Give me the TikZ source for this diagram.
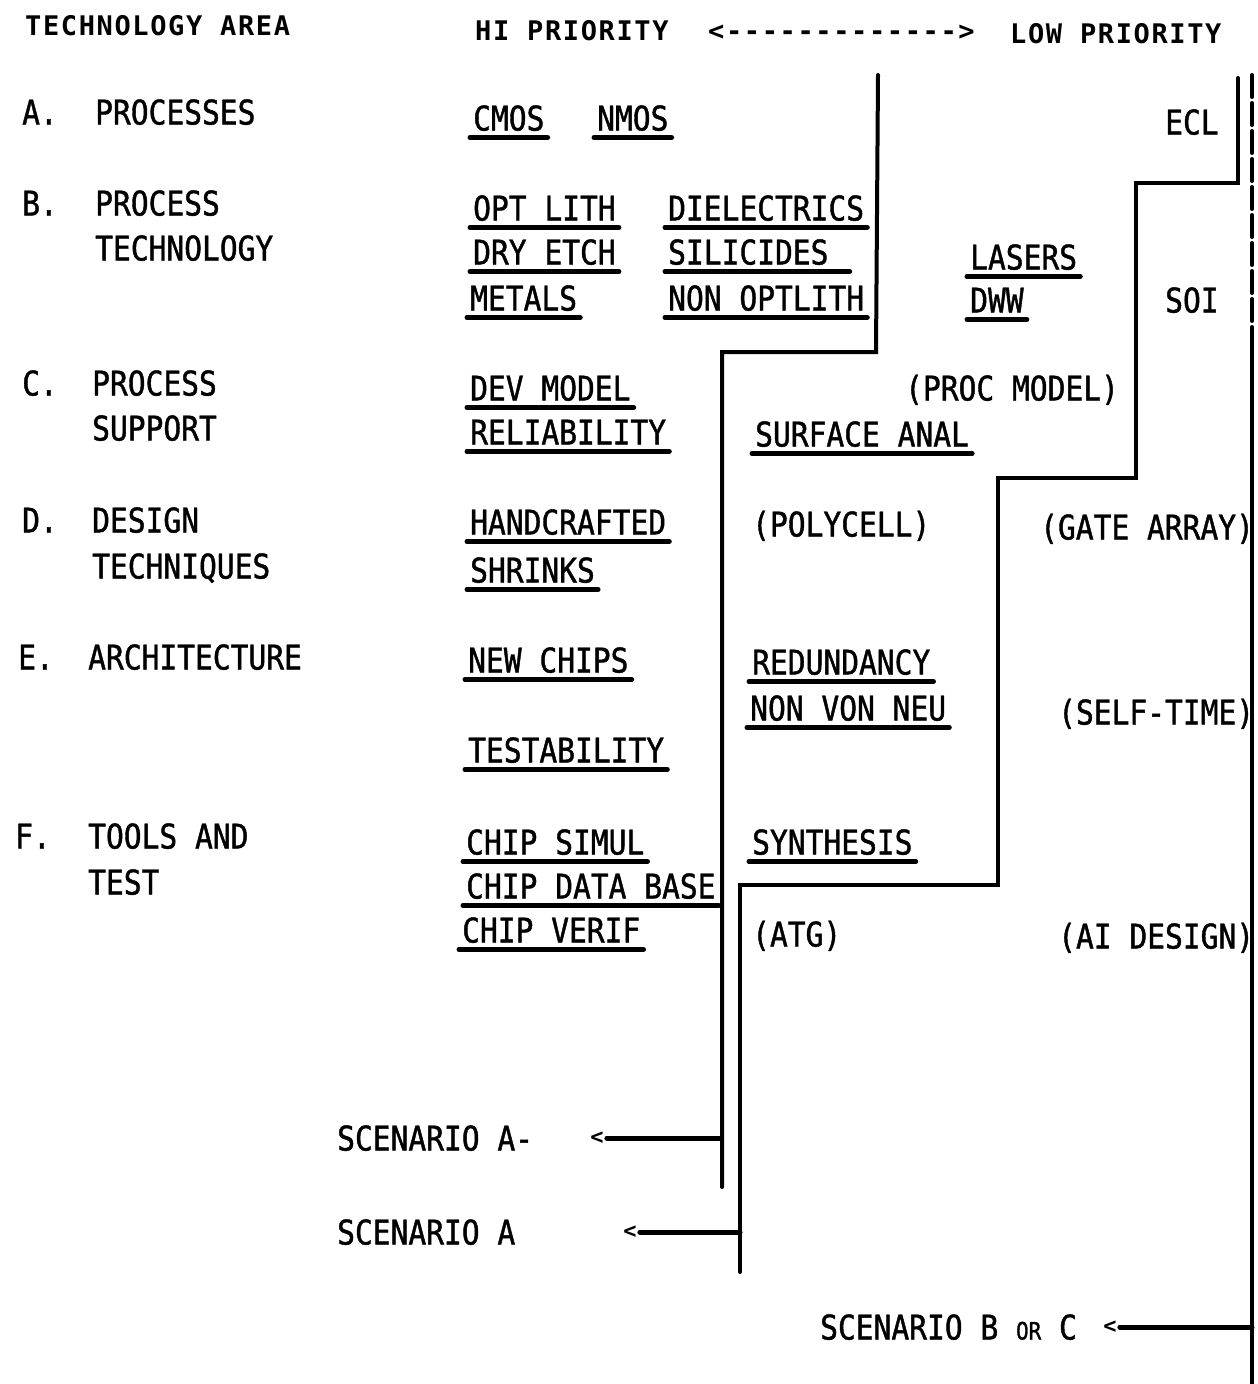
\documentclass[tikz,border=0pt]{standalone}
\usepackage{fontspec}
\newfontfamily\bodyf[FakeStretch=0.87,FakeBold=1.2]{DejaVu Sans Mono}
\newfontfamily\headf[LetterSpace=6]{DejaVu Sans Mono}
\newfontfamily\smallf{DejaVu Sans Mono}
\tikzset{
  bodytxt/.style={anchor=base west, inner sep=0pt, font=\bodyf\fontsize{34}{34}\selectfont},
  headtxt/.style={anchor=base west, inner sep=0pt, font=\headf\bfseries\fontsize{27}{27}\selectfont},
  lt/.style={anchor=center, inner sep=3pt, font=\smallf\bfseries\fontsize{22}{22}\selectfont},
  uline/.style={line width=5pt, line cap=round},
  stair/.style={line width=4pt, line cap=round, line join=miter},
  conn/.style={line width=5pt, line cap=round},
}
\newcommand\uitem[5][0]{%
  \node[bodytxt] (#2) at (#3,#4+12.5) {#5};
  \draw[uline] ([xshift=-3pt,yshift=-7pt]#2.base west) -- ([xshift=3pt+#1pt,yshift=-7pt]#2.base east);}
\newcommand\pitem[4]{%
  \node[bodytxt] (#1) at (#2,#3+12.5) {#4};}
\begin{document}
\begin{tikzpicture}[x=1pt,y=-1pt]
\useasboundingbox (0,0) rectangle (1258,1384);
\fill[white] (0,0) rectangle (1258,1384);
% header
\node[headtxt] (hTA) at (25,35) {TECHNOLOGY AREA};
\node[headtxt] (hHI) at (475,40) {HI PRIORITY};
\node[headtxt] (hAR) at (708,40) {<-{}-{}-{}-{}-{}-{}-{}-{}-{}-{}-{}-{}->};
\node[headtxt] (hLO) at (1010,43) {LOW PRIORITY};
% left column
\pitem{lA}{22}{112}{A.}  \pitem{tA}{95}{112}{PROCESSES}
\pitem{lB}{22}{203}{B.}  \pitem{tB1}{95}{203}{PROCESS} \pitem{tB2}{95}{248}{TECHNOLOGY}
\pitem{lC}{22}{383}{C.}  \pitem{tC1}{92}{383}{PROCESS} \pitem{tC2}{92}{428}{SUPPORT}
\pitem{lD}{22}{520}{D.}  \pitem{tD1}{92}{520}{DESIGN} \pitem{tD2}{92}{566}{TECHNIQUES}
\pitem{lE}{18}{657}{E.}  \pitem{tE}{88}{657}{ARCHITECTURE}
\pitem{lF}{15}{836}{F.}  \pitem{tF1}{88}{836}{TOOLS AND} \pitem{tF2}{88}{882}{TEST}
% column 2
\uitem{cmos}{473}{118}{CMOS}
\uitem{nmos}{597}{118}{NMOS}
\uitem{optl}{473}{208}{OPT LITH}
\uitem{diel}{668}{208}{DIELECTRICS}
\uitem{dret}{473}{252}{DRY ETCH}
\uitem[18]{sili}{668}{252}{SILICIDES}
\uitem{meta}{470}{298}{METALS}
\uitem{nonl}{668}{298}{NON OPTLITH}
\uitem{devm}{470}{388}{DEV MODEL}
\uitem{reli}{470}{432}{RELIABILITY}
\uitem{hand}{470}{522}{HANDCRAFTED}
\uitem{shri}{470}{570}{SHRINKS}
\uitem{newc}{468}{660}{NEW CHIPS}
\uitem{test}{468}{750}{TESTABILITY}
\uitem{csim}{466}{842}{CHIP SIMUL}
\uitem{cdat}{466}{886}{CHIP DATA BASE}
\uitem{cver}{462}{930}{CHIP VERIF}
% column 3
\uitem{lase}{970}{257}{LASERS}
\uitem{dww}{970}{300}{DWW}
\pitem{procm}{905}{388}{(PROC MODEL)}
\uitem{surf}{755}{434}{SURFACE ANAL}
\pitem{poly}{752}{524}{(POLYCELL)}
\uitem{redu}{752}{662}{REDUNDANCY}
\uitem{nvn}{750}{708}{NON VON NEU}
\uitem{synt}{752}{842}{SYNTHESIS}
\pitem{atg}{752}{934}{(ATG)}
% column 4
\pitem{ecl}{1165}{122}{ECL}
\pitem{soi}{1165}{300}{SOI}
\pitem{gate}{1040}{527}{(GATE ARRAY)}
\pitem{self}{1058}{712}{(SELF-TIME)}
\pitem{aid}{1058}{936}{(AI DESIGN)}
% scenarios
\pitem{scAm}{337}{1138}{SCENARIO A-}
\pitem{scA}{337}{1232}{SCENARIO A}
\node[bodytxt] (scBC) at (820,1327+12.5) {SCENARIO B {\fontsize{24}{24}\selectfont OR} C};
\node[lt] (ltAm) at (597,1138) {<};
\node[lt] (ltA) at (630,1232) {<};
\node[lt] (ltBC) at (1110,1327) {<};
% staircase lines
\coordinate (p1) at (878,75);
\coordinate (p2) at (876,352);
\coordinate (p3) at (722,352);
\coordinate (p4) at (722,1187);
\draw[stair] (p1) -- (p2) -- (p3) -- (p4);
\coordinate (q1) at (1238,78);
\coordinate (q2) at (1238,183);
\coordinate (q3) at (1136,183);
\coordinate (q4) at (1136,478);
\coordinate (q5) at (998,478);
\coordinate (q6) at (998,885);
\coordinate (q7) at (740,885);
\coordinate (q8) at (740,1272);
\draw[stair] (q1) -- (q2) -- (q3) -- (q4) -- (q5) -- (q6) -- (q7) -- (q8);
\coordinate (r1) at (1252,75);
\coordinate (r2) at (1252,330);
\coordinate (r3) at (1252,1384);
\draw[stair, dash pattern=on 22pt off 6pt] (r1) -- (r2);
\draw[stair] (r2) -- (r3);
% arrows
\coordinate (aAm) at (720,1138);
\coordinate (aA) at (740,1232);
\coordinate (aBC) at (1252,1327);
\draw[conn] (ltAm.east) -- (aAm);
\draw[conn] (ltA.east) -- (aA);
\draw[conn] (ltBC.east) -- (aBC);
\end{tikzpicture}
\end{document}
